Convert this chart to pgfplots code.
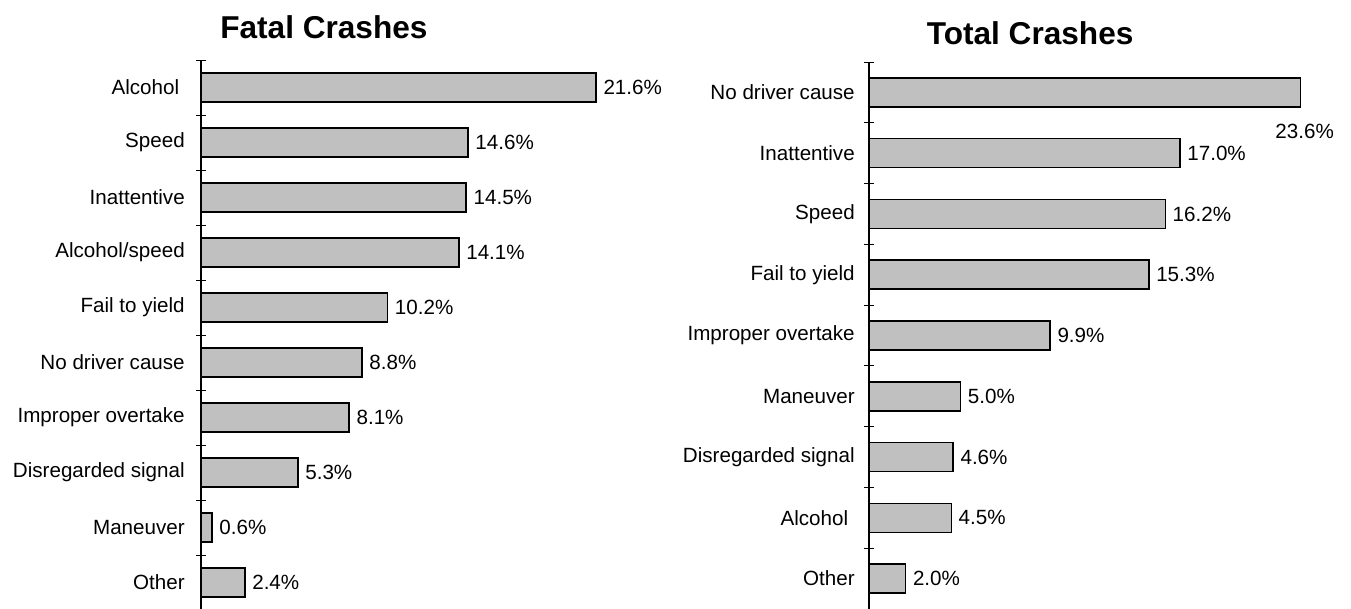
\documentclass[border=0pt]{standalone}
\usepackage{pgfplots}
\pgfplotsset{compat=1.18}
\usepackage{fontspec}
\setmainfont{Liberation Sans}
\definecolor{barfill}{RGB}{192,192,192}
\pgfplotsset{
  crashbase/.style={
    scale only axis,
    xbar, bar width=14.5pt,
    xmin=0, xmax=24, width=219.5pt,
    y dir=reverse,
    axis x line=none,
    axis y line*=left,
    axis line style={line width=0.75pt,-},
    ytick={0,...,10},
    major tick length=0pt,
    minor tick length=5pt,
    tick align=center,
    minor tick style={black,line width=0.5pt},
    tick label style={font=\fontsize{10.3}{12}\selectfont},
    clip=false,
    nodes near coords={\pgfmathprintnumber[fixed,fixed zerofill,precision=1,assume math mode=true]{\pgfplotspointmeta}\%},
    point meta=x,
    every node near coord/.append style={font=\fontsize{10.3}{12}\selectfont,black},
    title style={font=\fontsize{15.8}{18}\selectfont\bfseries,anchor=center},
  },
  crashbar/.style={fill=barfill,draw=black,line width=0.75pt,bar shift=0pt},
}
\begin{document}
\begin{tikzpicture}
\useasboundingbox (0,0) rectangle (675.5pt,304.5pt);
% Left: Fatal Crashes
\begin{axis}[crashbase,
  at={(100.5pt,-0.5pt)}, anchor=south west,
  height=275pt,
  ymin=-0.5, ymax=9.5,
  minor ytick={-0.5,0.5,...,9.5},
  yticklabels={Alcohol\hspace*{2.8pt},Speed,Inattentive,Alcohol/speed,Fail to yield,No driver cause,Improper overtake,Disregarded signal,Maneuver,Other},
  yticklabel style={xshift=-4.6pt},
  title={Fatal Crashes},
  title style={at={(0.28,1)},yshift=10.5pt},
]
\addplot[crashbar] coordinates {
(21.6,0) (14.6,1) (14.5,2) (14.1,3) (10.2,4) (8.8,5) (8.1,6) (5.3,7) (0.6,8) (2.4,9)};
\end{axis}
% Right: Total Crashes
\begin{axis}[crashbase,
  at={(434.5pt,0pt)}, anchor=south west,
  height=273.5pt,
  ymin=-0.5, ymax=8.5,
  minor ytick={-0.5,0.5,...,8.5},
  yticklabels={No driver cause,Inattentive,Speed,Fail to yield,Improper overtake,Maneuver,Disregarded signal,Alcohol\hspace*{3.3pt},Other},
  yticklabel style={xshift=-3.6pt},
  title={Total Crashes},
  title style={at={(0.367,1)},yshift=8.5pt},
]
\addplot[crashbar] coordinates {
(17.0,1) (16.2,2) (15.3,3) (9.9,4) (5.0,5) (4.6,6) (4.5,7) (2.0,8)};
\addplot[crashbar,every node near coord/.append style={anchor=center,xshift=2pt,yshift=-19.5pt}] coordinates {(23.6,0)};
\end{axis}
\end{tikzpicture}
\end{document}
